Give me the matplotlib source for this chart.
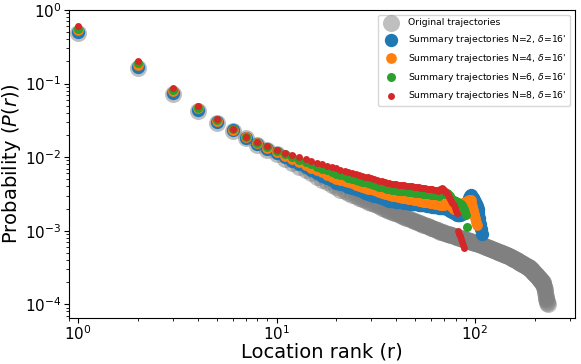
import numpy as np
import matplotlib
matplotlib.use('Agg')
import matplotlib.pyplot as plt

# probability of each location rank (rank = position in list, starting at 1)
orig_p = [0.487, 0.163, 0.072, 0.0423, 0.0293, 0.0228, 0.0180, 0.0146, 0.0126, 0.0110,
          0.00954, 0.00837, 0.00742, 0.00664, 0.00599, 0.00543, 0.00496, 0.00455, 0.00420, 0.00389,
          0.00361, 0.00342, 0.00325, 0.00309, 0.00295, 0.00282, 0.00270, 0.00259, 0.00248, 0.00239,
          0.00230, 0.00221, 0.00214, 0.00206, 0.00200, 0.00193, 0.00187, 0.001816, 0.001765, 0.001716,
          0.001670, 0.001627, 0.001585, 0.001546, 0.001508, 0.001472, 0.001437, 0.001405, 0.001373, 0.001343,
          0.001314, 0.001286, 0.001259, 0.001234, 0.001209, 0.001185, 0.001162, 0.001140, 0.001119, 0.001098,
          0.001079, 0.001060, 0.001041, 0.001023, 0.001006, 0.000989, 0.000973, 0.000960, 0.000948, 0.000936,
          0.000925, 0.000913, 0.000902, 0.000892, 0.000881, 0.000871, 0.000861, 0.000851, 0.000842, 0.000832,
          0.000823, 0.000815, 0.000806, 0.000797, 0.000789, 0.000781, 0.000773, 0.000765, 0.000758, 0.000750,
          0.000743, 0.000736, 0.000729, 0.000722, 0.000716, 0.000709, 0.000703, 0.000696, 0.000690, 0.000684,
          0.000678, 0.000672, 0.000666, 0.000661, 0.000655, 0.000650, 0.000643, 0.000637, 0.000631, 0.000624,
          0.000618, 0.000612, 0.000606, 0.000600, 0.000595, 0.000589, 0.000584, 0.000578, 0.000573, 0.000568,
          0.000563, 0.000558, 0.000553, 0.000548, 0.000543, 0.000538, 0.000534, 0.000529, 0.000525, 0.000520,
          0.000516, 0.000512, 0.000507, 0.000503, 0.000499, 0.000495, 0.000491, 0.000487, 0.000484, 0.000480,
          0.000476, 0.000472, 0.000469, 0.000465, 0.000462, 0.000459, 0.000455, 0.000452, 0.000448, 0.000445,
          0.000440, 0.000436, 0.000431, 0.000427, 0.000423, 0.000418, 0.000414, 0.000410, 0.000406, 0.000402,
          0.000398, 0.000394, 0.000390, 0.000386, 0.000383, 0.000379, 0.000376, 0.000372, 0.000369, 0.000365,
          0.000362, 0.000358, 0.000355, 0.000352, 0.000349, 0.000346, 0.000343, 0.000340, 0.000337, 0.000334,
          0.000331, 0.000328, 0.000325, 0.000322, 0.000320, 0.000317, 0.000314, 0.000312, 0.000309, 0.000306,
          0.000301, 0.000296, 0.000292, 0.000287, 0.000283, 0.000278, 0.000274, 0.000270, 0.000265, 0.000261,
          0.000257, 0.000254, 0.000250, 0.000246, 0.000242, 0.000239, 0.000235, 0.000232, 0.000228, 0.000225,
          0.000222, 0.000219, 0.000215, 0.000212, 0.000209, 0.000206, 0.000203, 0.000201, 0.000198, 0.000192,
          0.000185, 0.000178, 0.000170, 0.000160, 0.000150, 0.000140, 0.000130, 0.000122, 0.000116, 0.000110,
          0.000105, 0.000101]

n2_p = [0.50, 0.17, 0.075, 0.044, 0.030, 0.0233, 0.0183, 0.0150, 0.0130, 0.0114,
        0.01003, 0.00893, 0.00802, 0.00726, 0.00662, 0.00607, 0.00560, 0.00519, 0.00482, 0.00450,
        0.00430, 0.00412, 0.00396, 0.00380, 0.00366, 0.00353, 0.00341, 0.00330, 0.00319, 0.00310,
        0.00300, 0.00292, 0.00283, 0.00276, 0.00268, 0.00262, 0.00255, 0.00253, 0.00250, 0.00248,
        0.00246, 0.00244, 0.00242, 0.00240, 0.00238, 0.00236, 0.00234, 0.00232, 0.00231, 0.00229,
        0.00227, 0.00226, 0.00224, 0.00223, 0.00221, 0.00220, 0.00218, 0.00217, 0.00215, 0.00214,
        0.00213, 0.00211, 0.00210, 0.00209, 0.00208, 0.00206, 0.00205, 0.00204, 0.00203, 0.00202,
        0.00201, 0.00200, 0.00196, 0.00192, 0.00188, 0.00184, 0.00180, 0.00176, 0.00172, 0.00168,
        0.00165, 0.00163, 0.00162, 0.00163, 0.00166, 0.00170, 0.00176, 0.00184, 0.00194, 0.00207,
        0.00225, 0.00250, 0.00280, 0.00300, 0.00305, 0.00300, 0.00290, 0.00275, 0.00260, 0.00245,
        0.00230, 0.00215, 0.00195, 0.00175, 0.00150, 0.00125, 0.00105, 0.00091]

n4_p = [0.53, 0.18, 0.079, 0.046, 0.031, 0.0236, 0.0186, 0.0154, 0.0134, 0.0116,
        0.01036, 0.00935, 0.00850, 0.00778, 0.00717, 0.00664, 0.00618, 0.00578, 0.00542, 0.00510,
        0.00489, 0.00471, 0.00453, 0.00438, 0.00423, 0.00409, 0.00396, 0.00384, 0.00373, 0.00363,
        0.00353, 0.00343, 0.00335, 0.00326, 0.00319, 0.00311, 0.00304, 0.00300, 0.00296, 0.00292,
        0.00289, 0.00285, 0.00282, 0.00279, 0.00276, 0.00273, 0.00270, 0.00267, 0.00264, 0.00261,
        0.00259, 0.00256, 0.00254, 0.00251, 0.00249, 0.00247, 0.00245, 0.00243, 0.00241, 0.00239,
        0.00237, 0.00235, 0.00233, 0.00231, 0.00229, 0.00227, 0.00226, 0.00224, 0.00223, 0.00222,
        0.00228, 0.00240, 0.00250, 0.00246, 0.00238, 0.00225, 0.00212, 0.00200, 0.00195, 0.00200,
        0.00210, 0.00218, 0.00222, 0.00225, 0.00228, 0.00232, 0.00236, 0.00240, 0.00243, 0.00246,
        0.00250, 0.00254, 0.00258, 0.00262, 0.00260, 0.00240, 0.00215, 0.00190, 0.00168, 0.00150,
        0.00133, 0.00118]

n6_p = [0.56, 0.19, 0.083, 0.047, 0.032, 0.0240, 0.0188, 0.0158, 0.0137, 0.0121,
        0.01096, 0.01002, 0.00922, 0.00854, 0.00795, 0.00744, 0.00698, 0.00658, 0.00622, 0.00590,
        0.00568, 0.00547, 0.00528, 0.00511, 0.00495, 0.00480, 0.00465, 0.00452, 0.00440, 0.00428,
        0.00417, 0.00407, 0.00397, 0.00388, 0.00379, 0.00371, 0.00363, 0.00360, 0.00357, 0.00354,
        0.00351, 0.00348, 0.00346, 0.00343, 0.00341, 0.00338, 0.00336, 0.00334, 0.00331, 0.00329,
        0.00327, 0.00325, 0.00323, 0.00321, 0.00319, 0.00317, 0.00315, 0.00313, 0.00311, 0.00309,
        0.00308, 0.00306, 0.00304, 0.00303, 0.00301, 0.00300, 0.00305, 0.00312, 0.00320, 0.00330,
        0.00338, 0.00330, 0.00318, 0.00305, 0.00292, 0.00280, 0.00270, 0.00262, 0.00255, 0.00250,
        0.00246, 0.00242, 0.00238, 0.00234, 0.00230, 0.00222, 0.00210, 0.00195, 0.00180, 0.00165,
        0.00113]

n8_p = [0.60, 0.20, 0.087, 0.049, 0.033, 0.0243, 0.0190, 0.0162, 0.0141, 0.0124,
        0.01147, 0.01068, 0.01000, 0.00941, 0.00889, 0.00843, 0.00803, 0.00766, 0.00733, 0.00702,
        0.00675, 0.00651, 0.00630, 0.00610, 0.00591, 0.00574, 0.00558, 0.00543, 0.00529, 0.00515,
        0.00503, 0.00491, 0.00480, 0.00469, 0.00459, 0.00449, 0.00440, 0.00435, 0.00431, 0.00428,
        0.00424, 0.00420, 0.00417, 0.00413, 0.00410, 0.00407, 0.00404, 0.00401, 0.00398, 0.00395,
        0.00392, 0.00389, 0.00386, 0.00383, 0.00380, 0.00376, 0.00373, 0.00371, 0.00368, 0.00366,
        0.00363, 0.00360, 0.00356, 0.00353, 0.00350, 0.00358, 0.00368, 0.00375, 0.00368, 0.00355,
        0.00340, 0.00322, 0.00305, 0.00288, 0.00272, 0.00256, 0.00240, 0.00222, 0.00205, 0.00188,
        0.00172, 0.00100, 0.00091, 0.00084, 0.00077, 0.00070, 0.00064, 0.00059]

labels = ['Original trajectories',
          "Summary trajectories N=2, $\\delta$=16'",
          "Summary trajectories N=4, $\\delta$=16'",
          "Summary trajectories N=6, $\\delta$=16'",
          "Summary trajectories N=8, $\\delta$=16'"]

fig = plt.figure(figsize=(5.81, 3.64), dpi=100)
ax = fig.add_axes([69/581, 1-318/364, (575-69)/581, (318-10)/364])

ax.scatter(np.arange(1, len(orig_p)+1), orig_p, s=150, c='gray', alpha=0.5, linewidths=0, label=labels[0])
ax.scatter(np.arange(1, len(n2_p)+1), n2_p, s=92, c='C0', linewidths=0, label=labels[1])
ax.scatter(np.arange(1, len(n4_p)+1), n4_p, s=60, c='C1', linewidths=0, label=labels[2])
ax.scatter(np.arange(1, len(n6_p)+1), n6_p, s=42, c='C2', linewidths=0, label=labels[3])
ax.scatter(np.arange(1, len(n8_p)+1), n8_p, s=25, c='C3', linewidths=0, label=labels[4])

ax.set_xscale('log')
ax.set_yscale('log')
ax.set_xlim(0.9, 319)
ax.set_ylim(6.5e-5, 1)
ax.set_xlabel('Location rank (r)', fontsize=14, labelpad=0)
ax.set_ylabel('Probability ($P(r)$)', fontsize=14, labelpad=1)
ax.tick_params(axis='both', which='major', labelsize=11)
ax.tick_params(axis='x', which='major', pad=1)
ax.tick_params(axis='y', which='major', pad=2)
ax.legend(loc='upper right', fontsize=6.7, borderaxespad=0.5, labelspacing=0.62)

fig.savefig('out.png', dpi=100)
